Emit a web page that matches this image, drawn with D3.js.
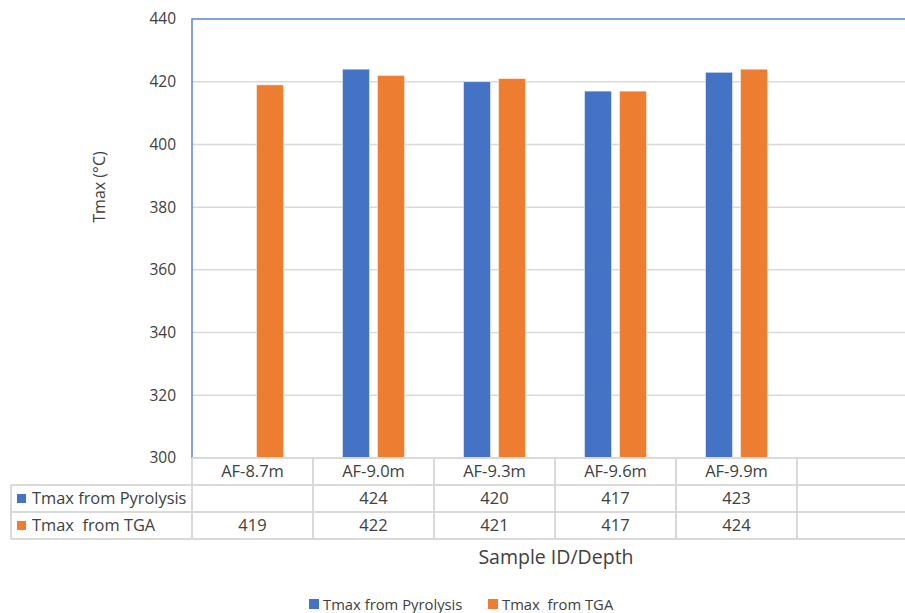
<!DOCTYPE html>
<html><head><meta charset="utf-8">
<script src="https://cdn.jsdelivr.net/npm/d3@7"></script>
<style>body{margin:0;background:#fff}svg{display:block}</style>
</head><body>
<script>
const categories = ["AF-8.7m","AF-9.0m","AF-9.3m","AF-9.6m","AF-9.9m",""];
const seriesNames = ["Tmax from Pyrolysis","Tmax  from TGA"];
const pyrolysis = [null,424,420,417,423,null];
const tga = [419,422,421,417,424,null];
const yTicks = [300,320,340,360,380,400,420,440];
const colors = ["#4472C4","#ED7D31"];
const series = [pyrolysis, tga];

(function(){
const W=905,H=613;
const font="'Open Sans', sans-serif";
const txt="#404040";
const svg=d3.select("body").append("svg").attr("width",W).attr("height",H);

const pL=192, pT=19, pB=458, pR=918;
const x=d3.scaleBand().domain(categories).range([pL,pR]);
const xs=d3.scaleBand().domain([0,1]).range([0,x.bandwidth()]).paddingInner(0.2286).paddingOuter(0.843);
const y=d3.scaleLinear().domain([300,440]).range([pB,pT]);

// gridlines
svg.append("g").selectAll("line").data(yTicks.filter(d=>d>300&&d<440)).join("line")
 .attr("x1",pL).attr("x2",W).attr("y1",d=>y(d)).attr("y2",d=>y(d))
 .attr("stroke","#d9d9d9").attr("stroke-width",1.5);

// y axis labels
const yAxis=d3.axisLeft(y).tickValues(yTicks).tickSize(0).tickPadding(16);
const ga=svg.append("g").attr("transform",`translate(${pL},0)`).call(yAxis);
ga.select(".domain").remove();
ga.selectAll("text").attr("font-family",font).attr("font-size",15.5).attr("fill",txt);

// bars
series.forEach((s,si)=>{
  svg.append("g").selectAll("rect").data(categories.map((c,i)=>({c,v:s[i]})).filter(d=>d.v!=null)).join("rect")
   .attr("x",d=>x(d.c)+xs(si)).attr("width",xs.bandwidth())
   .attr("y",d=>y(d.v)).attr("height",d=>y(300)-y(d.v))
   .attr("fill",colors[si]).attr("stroke","#fff").attr("stroke-opacity",0.6).attr("stroke-width",0.8);
});

// plot border (blue left + top)
svg.append("path").attr("d",`M${pL},${pB}V${pT}H${W}`).attr("fill","none")
 .attr("stroke","#5b84d1").attr("stroke-width",1.5);

// data table
const rowY=[458,485,512,539];
const tableLeft=11;
const gc="#d9d9d9";
const tg=svg.append("g");
tg.append("line").attr("x1",pL).attr("x2",W).attr("y1",rowY[0]).attr("y2",rowY[0]).attr("stroke",gc).attr("stroke-width",2);
[1,2,3].forEach(i=>tg.append("line").attr("x1",tableLeft).attr("x2",W).attr("y1",rowY[i]).attr("y2",rowY[i]).attr("stroke",gc).attr("stroke-width",2));
tg.append("line").attr("x1",tableLeft).attr("x2",tableLeft).attr("y1",rowY[1]).attr("y2",rowY[3]).attr("stroke",gc).attr("stroke-width",2);
categories.forEach(c=>{
  tg.append("line").attr("x1",x(c)).attr("x2",x(c)).attr("y1",rowY[0]).attr("y2",rowY[3]).attr("stroke",gc).attr("stroke-width",2);
});

// category labels
tg.selectAll("text.cat").data(categories).join("text").attr("class","cat")
 .attr("x",d=>x(d)+x.bandwidth()/2).attr("y",(rowY[0]+rowY[1])/2).attr("dy","0.35em")
 .attr("text-anchor","middle").attr("font-family",font).attr("font-size",16.5).attr("fill",txt).text(d=>d);

// series rows
series.forEach((s,si)=>{
  const cy=(rowY[si+1]+rowY[si+2])/2;
  tg.append("rect").attr("x",17).attr("y",cy-4.5).attr("width",9).attr("height",9).attr("fill",colors[si]);
  tg.append("text").attr("x",32).attr("y",cy).attr("dy","0.35em").attr("font-family",font).attr("font-size",16.4)
   .attr("fill",txt).style("white-space","pre").text(seriesNames[si]);
  tg.selectAll(null).data(categories.map((c,i)=>({c,v:s[i]})).filter(d=>d.v!=null)).join("text")
   .attr("x",d=>x(d.c)+x.bandwidth()/2).attr("y",cy).attr("dy","0.35em").attr("text-anchor","middle")
   .attr("font-family",font).attr("font-size",16.5).attr("fill",txt).text(d=>d.v);
});

// axis titles
svg.append("text").attr("x",556).attr("y",557).attr("dy","0.35em").attr("text-anchor","middle")
 .attr("font-family",font).attr("font-size",19.5).attr("fill",txt).text("Sample ID/Depth");
svg.append("text").attr("transform","translate(99,187) rotate(-90)").attr("dy","0.35em").attr("text-anchor","middle")
 .attr("font-family",font).attr("font-size",16).attr("fill",txt).text("Tmax (°C)");

// legend
const lg=svg.append("g");
const legX=[309,488];
seriesNames.forEach((n,i)=>{
  lg.append("rect").attr("x",legX[i]).attr("y",599).attr("width",10).attr("height",10).attr("fill",colors[i]);
  lg.append("text").attr("x",legX[i]+14).attr("y",604.5).attr("dy","0.35em").attr("font-family",font).attr("font-size",14.8)
   .attr("fill",txt).style("white-space","pre").text(n);
});
})();
</script>
</body></html>
